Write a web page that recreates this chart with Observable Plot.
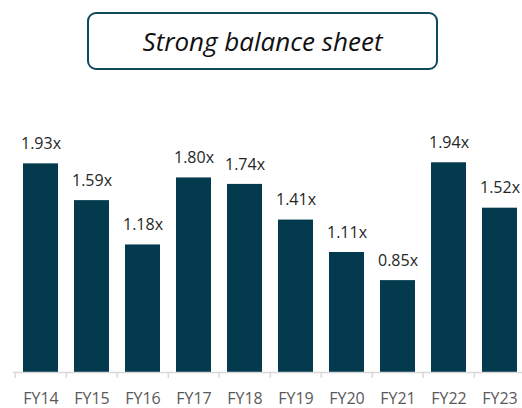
<!DOCTYPE html>
<html>
<head>
<meta charset="utf-8">
<script src="https://cdn.jsdelivr.net/npm/d3@7"></script>
<script src="https://cdn.jsdelivr.net/npm/@observablehq/plot@0.6"></script>
<style>
  html, body { margin: 0; padding: 0; background: #fff; }
  #wrap { position: relative; width: 522px; height: 408px; overflow: hidden; font-family: "Open Sans", sans-serif; }
  #title {
    position: absolute; left: 87px; top: 12px; width: 347px; height: 54px;
    border: 2.5px solid #0e4a5c; border-radius: 9px;
    display: flex; align-items: center; justify-content: center;
    font-style: italic; font-size: 26px; color: #111; box-sizing: content-box;
  }
  #chart { position: absolute; left: 0; top: 0; }
</style>
</head>
<body>
<div id="wrap">
  <div id="chart"></div>
  <div id="title">Strong balance sheet</div>
</div>
<script>
const categories = ["FY14","FY15","FY16","FY17","FY18","FY19","FY20","FY21","FY22","FY23"];
const values = [1.93, 1.59, 1.18, 1.80, 1.74, 1.41, 1.11, 0.85, 1.94, 1.52];
const valueLabels = ["1.93x","1.59x","1.18x","1.80x","1.74x","1.41x","1.11x","0.85x","1.94x","1.52x"];

const data = categories.map((c, i) => ({cat: c, value: values[i], label: valueLabels[i]}));

const xStart = 13, xEnd = 527;
const step = (xEnd - xStart) / categories.length;

const plot = Plot.plot({
  width: 522,
  height: 408,
  marginLeft: 13,
  marginRight: 0,
  marginTop: 0,
  marginBottom: 36,
  style: {fontFamily: "Open Sans, sans-serif", overflow: "visible"},
  x: {domain: categories, range: [xStart, xEnd], paddingInner: 0.32, paddingOuter: 0.16, align: 0.5, axis: null},
  y: {domain: [0, 2], range: [372, 372 - 108.1 * 2], axis: null},
  marks: [
    Plot.barY(data, {x: "cat", y: "value", fill: "#033a4e"}),
    Plot.ruleY([0], {stroke: "#d9d9d9", strokeWidth: 1.5}),
    Plot.ruleX(categories, {x: d => d, dx: -step / 2, y1: 0, y2: -0.055, stroke: "#d9d9d9", strokeWidth: 1.5}),
    Plot.text(data, {x: "cat", y: "value", text: "label", dy: -20, fontSize: 16, fill: "#262626"}),
    Plot.text(categories, {x: d => d, y: 0, text: d => d, dy: 26, fontSize: 16, fill: "#595959"})
  ]
});
document.getElementById("chart").appendChild(plot);
</script>
</body>
</html>
